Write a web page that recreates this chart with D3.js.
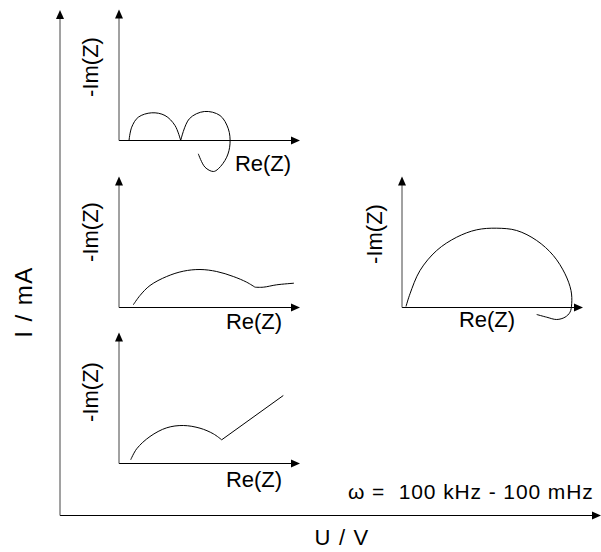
<!DOCTYPE html>
<html>
<head>
<meta charset="utf-8">
<script src="https://cdn.jsdelivr.net/npm/d3@7/dist/d3.min.js"></script>
<style>
  html, body { margin: 0; padding: 0; background: #fff; }
  svg { display: block; }
  text { font-family: "Liberation Sans", Arial, sans-serif; fill: #000; white-space: pre; }
</style>
</head>
<body>
<svg id="chart" width="601" height="552"></svg>
<script>
// ---- data (Re(Z), -Im(Z)) in arbitrary impedance units ----
// Inset A (top left): two arcs, second one loops below the real axis (inductive)
const curveA1 = [[10,0],[12.7,13.3],[19.3,23.3],[32.7,27.7],[46,25],[56,15],[61.7,0]];
const curveA2 = [[61.7,0],[70.3,21.7],[85.3,29],[101,25],[109.3,11.7],[111,-3.3],[107.7,-16.7],[99.3,-28.3],[94.3,-31],[86,-26.7],[79.3,-13.3]];
// Inset B (middle left): flattened arc with small tail
const curveB1 = [[14.3,2.7],[21,12],[31,22],[47.7,31],[64.3,36.3],[81,38],[97.7,36],[114.3,31],[127.7,25.3],[136,20.3]];
const curveB2 = [[136,20.3],[144.3,20.3],[157.7,22.7],[175,24.3]];
// Inset C (right): large arc with inductive loop at low frequency
const curveC1 = [[4,1],[8,13.7],[18,37],[34.7,57],[54.7,70.3],[74.7,77.7],[94.7,79.3],[114.7,77],[134.7,67],[151.3,52],[163,33.7],[169,17],[169.7,3.7],[168,-4.7],[163,-9.7],[154.7,-12],[144.7,-9.7],[134.7,-7]];
// Inset D (bottom left): arc followed by diffusion (Warburg) line
const curveD1 = [[11.7,3.7],[17.7,14.7],[31,27],[47.7,35.7],[64.3,38],[81,35.3],[94.3,29.7],[102.7,23.7]];
const curveD2 = [[102.7,23.7],[164.3,68]];

const reLabel = "Re(Z)";
const imLabel = "-Im(Z)";
const xTitle = "U / V";
const yTitle = "I / mA";
const freqNote = "\u03C9 =  100 kHz - 100 mHz";

// ---- layout ----
const svg = d3.select("#chart");
const FS = 22;

function arrowHead(g, x, y, dir) {
  const p = dir === "up"
    ? [[x, y], [x - 4, y + 9], [x + 4, y + 9]]
    : [[x, y], [x - 9, y - 4], [x - 9, y + 4]];
  g.append("path").attr("d", d3.line()(p) + "Z").attr("fill", "#000");
}

// main axes
const mainX = d3.scaleLinear().domain([0, 1]).range([60, 601]);
const mainY = d3.scaleLinear().domain([0, 1]).range([515.5, 10]);
const gm = svg.append("g");
gm.append("line").attr("x1", mainX(0)).attr("x2", mainX(1) - 6)
  .attr("y1", mainY(0)).attr("y2", mainY(0)).attr("stroke", "#000").attr("stroke-width", 1.2);
gm.append("line").attr("x1", mainX(0)).attr("x2", mainX(0))
  .attr("y1", mainY(0)).attr("y2", mainY(1) + 6).attr("stroke", "#444").attr("stroke-width", 1);
arrowHead(gm, mainX(1), mainY(0), "right");
arrowHead(gm, mainX(0), mainY(1), "up");
gm.append("text").attr("x", 342).attr("y", 545).attr("text-anchor", "middle")
  .attr("font-size", FS).attr("letter-spacing", 1.2).text(xTitle);
gm.append("text").attr("transform", "translate(32,302) rotate(-90)").attr("text-anchor", "middle")
  .attr("font-size", 24).attr("letter-spacing", 1.5).text(yTitle);
gm.append("text").attr("x", 348).attr("y", 499).attr("font-size", 21)
  .attr("letter-spacing", 0.9).text(freqNote);

// insets
const insetOrigins = [[119, 140.5], [119, 307.5], [402, 307.5], [119, 463.5]];
const insetCurves = [[curveA1, curveA2], [curveB1, curveB2], [curveC1], [curveD1, curveD2]];
const insetReLabelPos = [[263, 171], [254, 329], [487, 327], [254, 487]];
const insetImLabelPos = [[98, 67], [98, 232], [382, 234], [98, 392]];

const W = 181, H = 131;
insetOrigins.forEach((o, i) => {
  const x = d3.scaleLinear().domain([0, W]).range([o[0], o[0] + W]);
  const y = d3.scaleLinear().domain([0, H]).range([o[1], o[1] - H]);
  const g = svg.append("g");
  g.append("line").attr("x1", x(0)).attr("x2", x(W) - 6).attr("y1", y(0)).attr("y2", y(0))
    .attr("stroke", "#000").attr("stroke-width", 1.2);
  g.append("line").attr("x1", x(0)).attr("x2", x(0)).attr("y1", y(0)).attr("y2", y(H) + 6)
    .attr("stroke", "#444").attr("stroke-width", 1);
  arrowHead(g, x(W), y(0), "right");
  arrowHead(g, x(0), y(H), "up");

  const line = d3.line().x(d => x(d[0])).y(d => y(d[1])).curve(d3.curveCatmullRom.alpha(0.5));
  insetCurves[i].forEach(c => {
    g.append("path").attr("d", line(c)).attr("fill", "none")
      .attr("stroke", "#000").attr("stroke-width", 1);
  });

  g.append("text").attr("x", insetReLabelPos[i][0]).attr("y", insetReLabelPos[i][1])
    .attr("text-anchor", "middle").attr("font-size", FS).text(reLabel);
  g.append("text").attr("transform", `translate(${insetImLabelPos[i][0]},${insetImLabelPos[i][1]}) rotate(-90)`)
    .attr("text-anchor", "middle").attr("font-size", FS).text(imLabel);
});
</script>
</body>
</html>
